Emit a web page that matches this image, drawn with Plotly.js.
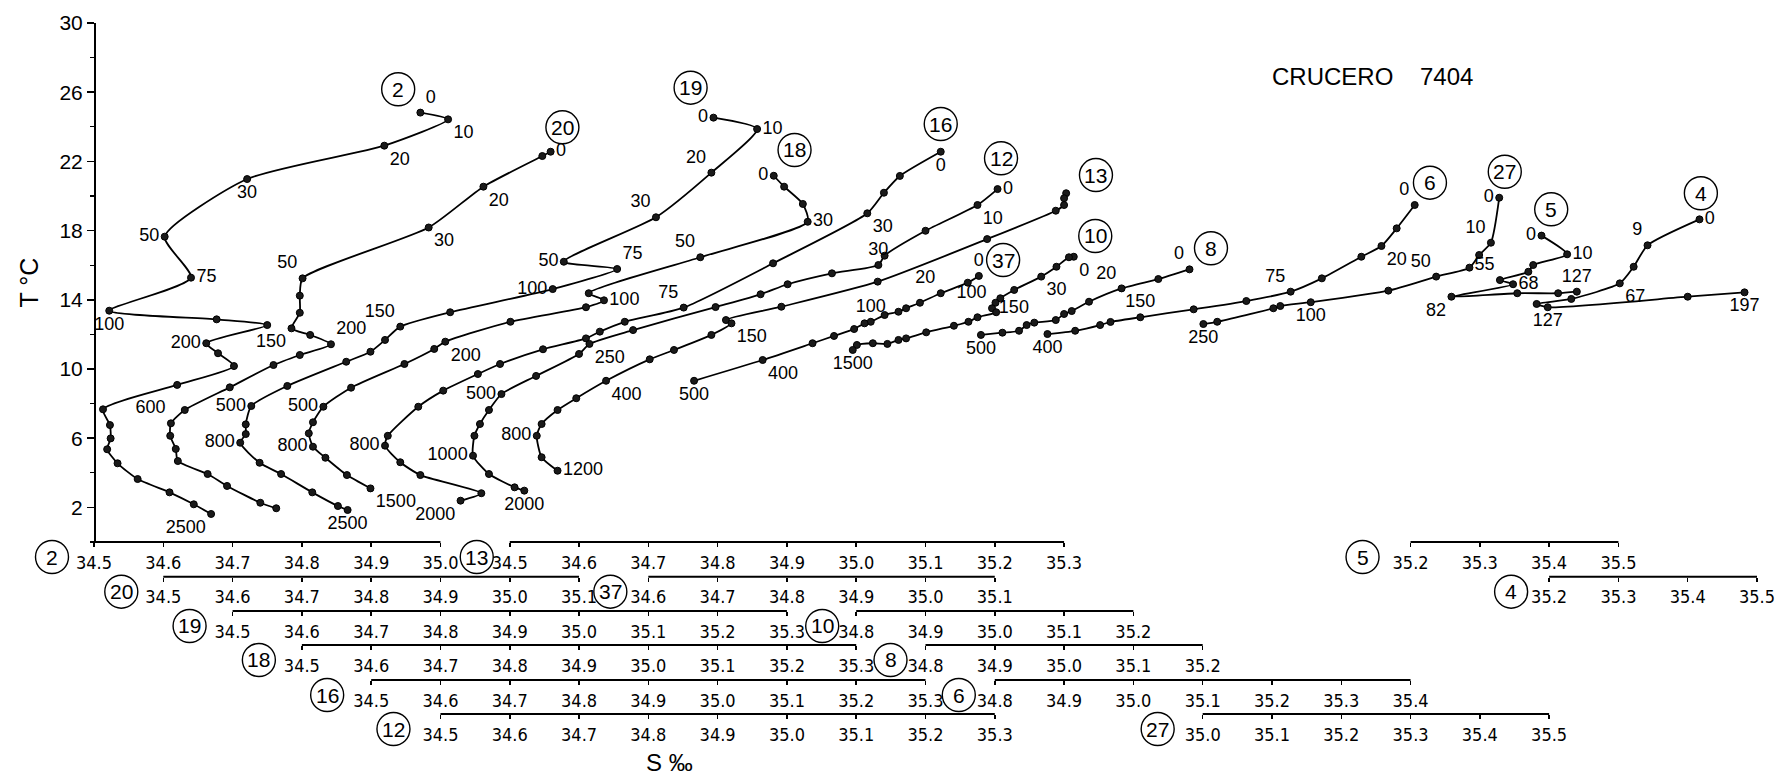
<!DOCTYPE html>
<html>
<head>
<meta charset="utf-8">
<script src="https://cdn.plot.ly/plotly-3.0.1.min.js"></script>
<style>html,body{margin:0;padding:0;background:#fff;}#chart{width:1775px;height:775px;}</style>
</head>
<body>
<div id="chart"></div>
<script>
// ---------------- DATA (salinity S ‰, temperature T °C, depth labels m) ----------------
const STATIONS = ['2','20','19','18','16','12','13','37','10','8','6','27','5','4'];

const S2 = [34.971,35.011,34.919,34.721,34.602,34.640,34.522,34.677,34.750,34.662,34.679,34.702,34.620,34.513,34.523,34.524,34.519,34.534,34.563,34.609,34.644,34.669];
const T2 = [24.82,24.43,22.91,20.98,17.65,15.28,13.37,12.87,12.54,11.49,10.91,10.17,9.08,7.67,6.76,5.99,5.36,4.55,3.64,2.87,2.18,1.62];
const D2 = ['0','10','20','30','50','75','100','','','200','','','','','','','','','','','','2500'];

const S20 = [35.059,35.047,34.962,34.883,34.701,34.697,34.697,34.685,34.712,34.742,34.697,34.659,34.596,34.531,34.511,34.510,34.518,34.521,34.564,34.592,34.640,34.663];
const T20 = [22.56,22.31,20.54,18.18,15.24,14.24,13.25,12.35,11.97,11.43,10.81,10.23,8.94,7.63,6.86,6.14,5.38,4.68,3.93,3.24,2.27,1.95];
const D20 = ['0','','20','30','50','','','150','','200','','','','','600','','','','','','',''];

const S19 = [35.194,35.257,35.191,35.111,34.978,35.055,34.962,34.814,34.742,34.720,34.699,34.664,34.579,34.527,34.519,34.519,34.511,34.539,34.570,34.615,34.652,34.666];
const T19 = [24.53,23.87,21.35,18.77,16.20,15.78,14.62,13.28,12.45,11.68,11.00,10.42,9.02,7.86,6.80,6.24,5.74,4.58,3.93,2.87,2.08,1.85];
const D19 = ['0','10','20','30','50','75','100','','150','','','','','500','','','800','','','','','2500'];

const S18 = [35.181,35.196,35.223,35.230,35.075,34.914,34.936,34.910,34.801,34.707,34.691,34.648,34.571,34.531,34.516,34.510,34.516,34.534,34.565,34.599];
const T18 = [21.17,20.54,19.54,18.51,16.46,14.38,13.97,13.57,12.73,11.58,11.16,10.29,8.92,7.82,6.92,6.28,5.51,4.87,3.87,3.10];
const D18 = ['0','','','30','50','','100','','','200','','','','500','','','800','','','1500'];

const S16 = [35.322,35.263,35.240,35.216,35.080,34.951,34.866,34.830,34.810,34.748,34.686,34.654,34.604,34.568,34.524,34.520,34.542,34.571,34.659,34.629];
const T16 = [22.56,21.16,20.19,19.00,16.11,13.55,12.73,12.16,11.77,11.14,10.29,9.71,8.75,7.82,6.14,5.57,4.61,3.87,2.82,2.39];
const D16 = ['0','','','30','','75','','','','','','','','','','800','','','','2000'];

const S12 = [35.304,35.275,35.200,35.141,35.132,35.065,35.001,34.962,34.897,34.778,34.715,34.700,34.638,34.588,34.570,34.557,34.549,34.547,34.570,34.607,34.621];
const T12 = [20.40,19.48,17.99,16.55,16.01,15.53,14.90,14.32,13.58,12.25,11.45,10.87,9.60,8.55,7.63,6.82,6.14,4.99,3.93,3.16,2.97];
const D12 = ['0','10','','','30','','','','','','250','','','500','','','','1000','','','2000'];

const S13 = [35.303,35.300,35.300,35.288,35.189,35.031,34.892,34.812,34.820,34.791,34.737,34.702,34.639,34.596,34.569,34.546,34.539,34.546,34.569];
const T13 = [20.16,19.87,19.48,19.15,17.51,15.05,13.60,12.83,12.64,11.97,11.10,10.56,9.32,8.31,7.63,6.82,6.14,4.90,4.12];
const D13 = ['','','','','','','','','150','','','','400','','','','800','','1200'];

const S37 = [35.077,35.061,35.022,34.992,34.972,34.961,34.941,34.921,34.912,34.897,34.868,34.837,34.765,34.666];
const T37 = [15.38,14.99,14.38,13.83,13.51,13.31,13.12,12.73,12.64,12.31,11.91,11.49,10.52,9.32];
const D37 = ['0','','20','','','','','100','','','','','400','500'];

const S10 = [35.114,35.107,35.089,35.067,35.028,35.008,35.001,34.996,35.002,34.975,34.962,34.941,34.901,34.872,34.861,34.845,34.824,34.801,34.795];
const T10 = [16.49,16.46,15.91,15.34,14.57,14.09,13.83,13.51,13.28,12.99,12.73,12.50,12.12,11.77,11.68,11.45,11.49,11.39,11.10];
const D10 = ['0','','','30','','','','100','','','','','','','','','','','1500'];

const S8 = [35.181,35.136,35.083,35.036,35.011,35.000,34.988,34.957,34.946,34.935,34.911,34.880];
const T8 = [15.76,15.20,14.66,13.89,13.35,13.18,12.83,12.68,12.54,12.21,12.10,11.97];
const D8 = ['0','','20','','','','','150','','','','500'];

const S6 = [35.406,35.380,35.358,35.329,35.272,35.227,35.163,35.087,35.010,34.967,34.952,34.916,34.876];
const T6 = [19.48,18.13,17.11,16.49,15.24,14.47,13.93,13.45,12.99,12.72,12.54,12.21,12.02];
const D6 = ['0','','20','','','75','','','150','','','','400'];

const S27 = [35.428,35.416,35.399,35.385,35.337,35.268,35.156,35.112,35.102,35.021,35.001];
const T27 = [19.90,17.30,16.59,15.86,15.34,14.53,13.86,13.64,13.51,12.73,12.60];
const D27 = ['0','10','','','50','','100','','','','250'];

const S5 = [35.389,35.426,35.377,35.370,35.329,35.348,35.259,35.354,35.413,35.440];
const T5 = [17.71,16.63,16.01,15.62,15.14,14.90,14.18,14.38,14.38,14.47];
const D5 = ['0','10','','','55','68','82','','','127'];

const S4 = [35.417,35.342,35.322,35.302,35.232,35.182,35.198,35.400,35.482];
const T4 = [18.65,17.15,15.91,14.95,14.05,13.76,13.57,14.18,14.43];
const D4 = ['0','9','','67','','','127','','197'];

// salinity scale of each station (tick labels), in STATIONS order
const AX_MIN = [34.5,34.5,34.5,34.5,34.5,34.5,34.5,34.6,34.8,34.8,34.8,35.0,35.2,35.2];
const AX_MAX = [35.0,35.1,35.3,35.3,35.3,35.3,35.3,35.1,35.2,35.2,35.4,35.5,35.5,35.5];
const T_TICKS = [2,6,10,14,18,22,26,30];

// ---------------- LAYOUT / STYLE CONFIG ----------------
const DATA = {
  '2':[S2,T2,D2],'20':[S20,T20,D20],'19':[S19,T19,D19],'18':[S18,T18,D18],'16':[S16,T16,D16],
  '12':[S12,T12,D12],'13':[S13,T13,D13],'37':[S37,T37,D37],'10':[S10,T10,D10],'8':[S8,T8,D8],
  '6':[S6,T6,D6],'27':[S27,T27,D27],'5':[S5,T5,D5],'4':[S4,T4,D4]
};
const NCOLS = 24;                                        // plot width in 0.1 ‰ steps
const AX_COL = [0,1,2,3,4,5,6,8,11,12,13,16,19,21];   // column where each scale starts
const AX_ROW = [0,1,2,3,4,5,0,1,2,3,4,5,0,1];
const ROW_Y = [0.2489,0.1987,0.1491,0.0999,0.0492,0];
const BADGE_PX = [42,42,43,43,44,47,33,38,34,35,36,45,48,38];
const LABEL_AT = {
  '2':[34.939,26.17],'20':[35.076,23.97],'19':[35.161,26.26],'18':[35.211,22.66],'16':[35.322,24.16],
  '12':[35.309,22.18],'13':[35.346,21.21],'37':[35.112,16.30],'10':[35.145,17.69],'8':[35.212,16.98],
  '6':[35.428,20.77],'27':[35.436,21.40],'5':[35.403,19.23],'4':[35.419,20.16]
};
const POS = {
  '2':{'0':'top right','10':'bottom right','20':'bottom right','30':'bottom center','50':'middle left','75':'middle right','100':'bottom center','200':'middle left','2500':'bottom left'},
  '20':{'0':'middle right','20':'bottom right','30':'bottom right','50':'top left','150':'bottom left','200':'top right','600':'top left'},
  '19':{'0':'middle left','10':'middle right','20':'top left','30':'top left','50':'middle left','75':'top right','100':'middle left','150':'top left','500':'middle left','800':'middle left','2500':'bottom center'},
  '18':{'0':'middle left','30':'middle right','50':'top left','100':'middle right','200':'bottom right','500':'middle left','800':'middle left','1500':'bottom right'},
  '16':{'0':'bottom center','30':'bottom right','75':'top left','800':'middle left','2000':'bottom left'},
  '12':{'0':'middle right','10':'bottom right','30':'top center','250':'bottom right','500':'middle left','1000':'middle left','2000':'bottom center'},
  '13':{'150':'bottom right','400':'bottom right','800':'middle left','1200':'middle right'},
  '37':{'0':'top center','20':'top left','100':'top center','400':'bottom right','500':'bottom center'},
  '10':{'0':'bottom right','30':'bottom right','100':'top left','1500':'bottom center'},
  '8':{'0':'top left','20':'top left','150':'top left','500':'bottom center'},
  '6':{'0':'top left','20':'bottom right','75':'top left','150':'top center','400':'bottom center'},
  '27':{'0':'middle left','10':'top left','50':'top left','100':'bottom center','250':'bottom center'},
  '5':{'0':'middle left','10':'middle right','55':'top left','68':'middle right','82':'bottom left','127':'top center'},
  '4':{'0':'middle right','9':'top left','67':'bottom right','127':'bottom center','197':'bottom center'}
};
const FONT = '"Liberation Sans", Arial, Helvetica, sans-serif';
const NARROW = '"Liberation Sans Narrow", "Arial Narrow", "DejaVu Sans Condensed", "Liberation Sans", sans-serif';

const traces = [];
const shapes = [];
const annotations = [];
const layout = {
  width: 1775, height: 775,
  margin: {l: 94, r: 18, t: 23, b: 61},
  paper_bgcolor: '#ffffff', plot_bgcolor: 'rgba(0,0,0,0)',
  showlegend: false,
  font: {family: FONT, color: '#000'},
  yaxis: {
    domain: [ROW_Y[0], 1], range: [0, 30], anchor: 'free', position: 0,
    showline: true, linecolor: '#000', linewidth: 1.6,
    showgrid: false, zeroline: false,
    ticks: 'outside', ticklen: 7, tickwidth: 1.5, tickcolor: '#000',
    tickmode: 'array', tickvals: T_TICKS, ticktext: T_TICKS.map(String),
    tickfont: {family: FONT, size: 21, color: '#000'},
    minor: {tickvals: [0,4,8,12,16,20,24,28], ticks: 'outside', ticklen: 4, tickwidth: 1.2, tickcolor: '#000', showgrid: false},
    title: {text: 'T °C', font: {family: FONT, size: 25, color: '#000'}, standoff: 12},
    automargin: false
  }
};

STATIONS.forEach((id, i) => {
  const ax = i === 0 ? 'x' : 'x' + (i + 1);
  const key = i === 0 ? 'xaxis' : 'xaxis' + (i + 1);
  const lo = AX_MIN[i], hi = AX_MAX[i], k = AX_COL[i], row = AX_ROW[i];
  const n = Math.round((hi - lo) * 10);
  const tv = [];
  for (let j = 0; j <= n; j++) tv.push(Math.round((lo + j * 0.1) * 10) / 10);
  const ax_def = {
    domain: [0, 1], range: [lo - k * 0.1, lo + (NCOLS - k) * 0.1 + 1e-6],
    anchor: 'free', position: ROW_Y[row], side: 'bottom',
    showline: false, showgrid: false, zeroline: false,
    ticks: 'outside', ticklen: 4, tickwidth: 1.5, tickcolor: '#000',
    tickmode: 'array', tickvals: tv, ticktext: tv.map(v => v.toFixed(1)),
    tickfont: {family: NARROW, size: 18, color: '#000'},
    ticklabeloverflow: 'allow',
    automargin: false
  };
  if (i > 0) ax_def.overlaying = 'x';
  layout[key] = ax_def;

  // salinity scale baseline
  shapes.push({type: 'line', xref: ax, yref: 'paper', x0: lo, x1: hi, y0: ROW_Y[row], y1: ROW_Y[row],
               line: {color: '#000', width: 2}});
  // circled station number beside its scale (paper-referenced so it is never clipped)
  const bp = BADGE_PX[i];
  const xa = k / NCOLS;
  annotations.push({xref: 'paper', yref: 'paper', x: xa, y: ROW_Y[row], xshift: -bp, yshift: -15,
                    xanchor: 'center', yanchor: 'middle',
                    text: id, showarrow: false, font: {family: FONT, size: 21, color: '#000'}});
  shapes.push({type: 'circle', xref: 'paper', yref: 'paper', xsizemode: 'pixel', ysizemode: 'pixel',
               xanchor: xa, yanchor: ROW_Y[row], x0: -bp - 16.5, x1: -bp + 16.5, y0: -15 - 16.5, y1: -15 + 16.5,
               line: {color: '#000', width: 1.4}});
  // circled station number on the curve
  const la = LABEL_AT[id];
  annotations.push({xref: ax, yref: 'y', x: la[0], y: la[1], text: id, showarrow: false,
                    xanchor: 'center', yanchor: 'middle',
                    font: {family: FONT, size: 21, color: '#000'}});
  shapes.push({type: 'circle', xref: ax, yref: 'y', xsizemode: 'pixel', ysizemode: 'pixel',
               xanchor: la[0], yanchor: la[1], x0: -16.5, x1: 16.5, y0: -16.5, y1: 16.5,
               line: {color: '#000', width: 1.4}});

  const [S, T, D] = DATA[id];
  const pos = POS[id];
  traces.push({
    type: 'scatter', mode: 'lines+markers+text',
    x: S, y: T, text: D, textposition: D.map(d => pos[d] || 'top right'),
    xaxis: ax, yaxis: 'y',
    line: {color: '#000', width: 1.8, shape: 'spline', smoothing: 0.6},
    marker: {size: 7, color: '#1a1a1a', line: {color: '#000', width: 1}},
    textfont: {family: FONT, size: 18, color: '#000'},
    cliponaxis: false, hoverinfo: 'skip', showlegend: false
  });
});

annotations.push({xref: 'paper', yref: 'paper', x: 0.769, y: 0.9219, showarrow: false,
                  xanchor: 'center', yanchor: 'middle',
                  text: 'CRUCERO\u00a0\u00a0\u00a0\u00a07404', font: {family: FONT, size: 24, color: '#000'}});
annotations.push({xref: 'paper', yref: 'paper', x: 0.3463, y: -0.0709, showarrow: false,
                  xanchor: 'center', yanchor: 'middle',
                  text: 'S ‰', font: {family: FONT, size: 24, color: '#000'}});

layout.shapes = shapes;
layout.annotations = annotations;

Plotly.newPlot('chart', traces, layout, {staticPlot: true, displayModeBar: false});
</script>
</body>
</html>
